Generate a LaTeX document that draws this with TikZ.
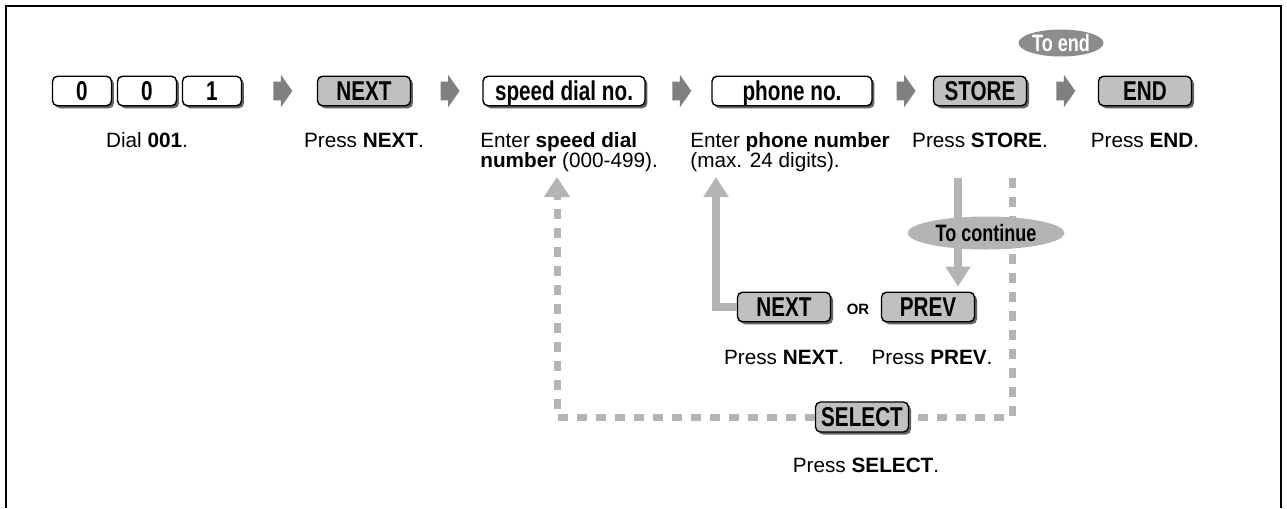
\documentclass[tikz,border=0pt]{standalone}
\usepackage{fontspec}
\setmainfont{Liberation Sans}
\newfontfamily\keyfont[FakeStretch=0.76]{Liberation Sans}
\usepackage{tikz}
\usetikzlibrary{arrows.meta, calc, positioning, shapes.arrows, shapes.geometric, shadows}
\definecolor{keygray}{RGB}{192,192,192}
\definecolor{keyshadow}{RGB}{100,100,100}
\definecolor{arrowgray}{RGB}{128,128,128}
\definecolor{linegray}{RGB}{180,180,180}
\definecolor{endgray}{RGB}{140,140,140}

\begin{document}
\begin{tikzpicture}[x=0.02cm, y=-0.02cm,
  key/.style={draw=black, line width=0.8pt, rounded corners=0.1cm,
    minimum width=1.86cm, minimum height=0.59cm, inner sep=0pt,
    text height=11pt, text depth=0pt,
    font=\keyfont\bfseries\fontsize{15.5}{15.5}\selectfont,
    drop shadow={shadow xshift=0.05cm, shadow yshift=-0.05cm, opacity=1, fill=keyshadow}},
  graykey/.style={key, fill=keygray},
  whitekey/.style={key, fill=white},
  digitkey/.style={whitekey, minimum width=1.18cm},
  caption/.style={font=\fontsize{11.8}{11.3}\selectfont, inner sep=0pt, anchor=base},
  twoline/.style={caption, align=left, anchor=north west},
  steparrow/.style={single arrow, fill=arrowgray, inner xsep=0pt, inner ysep=0.18cm,
    minimum height=0.38cm, single arrow head extend=0.14cm, single arrow tip angle=110},
  flowline/.style={draw=linegray, line width=0.15cm, -{Triangle[width=0.48cm, length=0.4cm]}},
  dashline/.style={draw=linegray, line width=0.14cm, dash pattern=on 0.2cm off 0.18cm},
  bubble/.style={ellipse, inner sep=0pt, font=\keyfont\bfseries\fontsize{13.5}{13.5}\selectfont}
]
\useasboundingbox (0,0) rectangle (1287,508);

% Frame
\draw[line width=1.4pt] (6,508) -- (6,6) -- (1281,6) -- (1281,508);

% Rows
\coordinate (caprow) at (0,147);

% Top row of keys
\node[digitkey] (dial1) at (82,91) {0};
\node[digitkey] (dial2) at (147,91) {0};
\node[digitkey] (dial3) at (212,91) {1};
\node[graykey] (next) at (364,91) {NEXT};
\node[whitekey, minimum width=3.24cm] (speed) at (564,91) {speed dial no.};
\node[whitekey, minimum width=3.2cm] (phone) at (792,91) {phone no.};
\node[graykey] (store) at (980,91) {STORE};
\node[graykey] (end) at (1145,91) {END};

% Arrows between steps
\node[steparrow] (go1) at ($(dial3.east)!0.5!(next.west)$) {};
\node[steparrow] (go2) at ($(next.east)!0.5!(speed.west)$) {};
\node[steparrow] (go3) at ($(speed.east)!0.5!(phone.west)$) {};
\node[steparrow] (go4) at ($(phone.east)!0.5!(store.west)$) {};
\node[steparrow] (go5) at ($(store.east)!0.5!(end.west)$) {};

% To end
\node[bubble, fill=endgray, text=white, minimum width=1.7cm, minimum height=0.54cm] (toend) at (1061,43) {To end};

% Captions
\node[caption] (tdial) at (dial2 |- caprow) {Dial \textbf{001}.};
\node[caption] (tnext) at (next |- caprow) {Press \textbf{NEXT}.};
\node[twoline] (tspeed) at (480,132) {Enter \textbf{speed dial}\\\textbf{number} (000-499).};
\node[twoline] (tphone) at (690,132) {Enter \textbf{phone number}\\(max. 24 digits).};
\node[caption] (tstore) at (store |- caprow) {Press \textbf{STORE}.};
\node[caption] (tend) at (end |- caprow) {Press \textbf{END}.};

% Lower keys
\node[graykey] (next2) at (784,307) {NEXT};
\node[font=\bfseries\fontsize{8.5}{8.5}\selectfont] (or) at (858,309) {OR};
\node[graykey] (prev) at (928,307) {PREV};
\node[graykey, minimum height=0.6cm] (select) at (862,417) {SELECT};

\node[caption] (tnext2) at (784,364) {Press \textbf{NEXT}.};
\node[caption] (tprev) at (932,364) {Press \textbf{PREV}.};
\node[caption] (tselect) at (866,472) {Press \textbf{SELECT}.};

% Loops
\coordinate (loopend) at (1012,178);
\coordinate (looptip) at (557,177);
\coordinate (phonetip) at (716,177);
\coordinate (storedown) at (958,178);
\draw[dashline] (loopend) |- (select.east);
\draw[dashline, -{Triangle[width=0.5cm, length=0.4cm]}] (select.west) -| (looptip);
\draw[flowline] (next2.west) -| (phonetip);
\draw[flowline, shorten >=0.1cm] (storedown) -- (storedown |- prev.north);

\node[bubble, fill=linegray, minimum width=3.14cm, minimum height=0.66cm] (tocont) at (986,233) {To continue};

\end{tikzpicture}
\end{document}
